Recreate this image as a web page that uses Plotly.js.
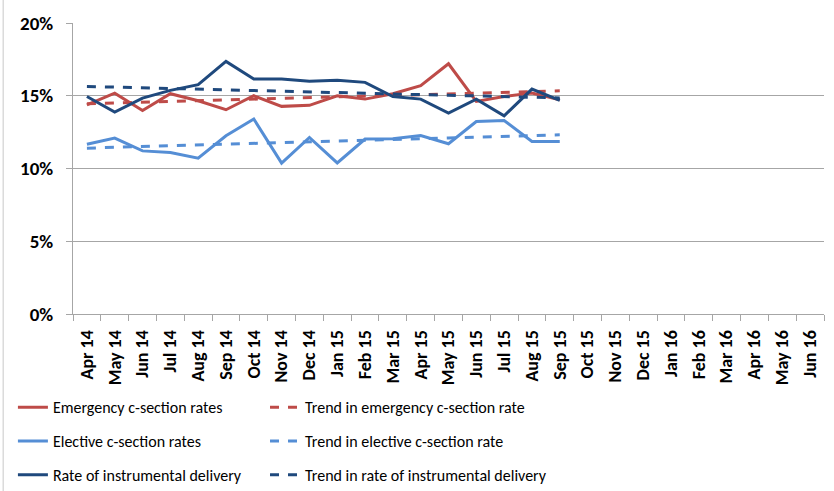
<!DOCTYPE html>
<html>
<head>
<meta charset="utf-8">
<script src="https://cdn.plot.ly/plotly-3.0.1.min.js"></script>
<style>html,body{margin:0;padding:0;background:#fff;}#chart{width:834px;height:491px;}</style>
</head>
<body>
<div id="chart"></div>
<script>
var months = ["Apr 14","May 14","Jun 14","Jul 14","Aug 14","Sep 14","Oct 14","Nov 14","Dec 14","Jan 15","Feb 15","Mar 15","Apr 15","May 15","Jun 15","Jul 15","Aug 15","Sep 15","Oct 15","Nov 15","Dec 15","Jan 16","Feb 16","Mar 16","Apr 16","May 16","Jun 16"];
var dataMonths = months.slice(0, 18);

var emergency = [14.38,15.18,13.99,15.14,14.66,14.04,15.00,14.27,14.34,15.00,14.77,15.14,15.69,17.20,14.61,14.95,15.18,14.72];
var emergencyTrend = [14.45,14.50,14.55,14.61,14.66,14.71,14.76,14.82,14.87,14.92,14.97,15.03,15.08,15.13,15.18,15.24,15.29,15.34];
var elective = [11.67,12.09,11.21,11.10,10.71,12.25,13.40,10.37,12.13,10.38,12.02,12.04,12.27,11.70,13.23,13.30,11.86,11.86];
var electiveTrend = [11.40,11.45,11.51,11.56,11.62,11.67,11.72,11.78,11.83,11.89,11.94,11.99,12.05,12.10,12.16,12.21,12.26,12.32];
var instrumental = [14.95,13.88,14.84,15.37,15.76,17.36,16.15,16.15,15.99,16.06,15.92,14.95,14.77,13.81,14.77,13.62,15.46,14.68];
var instrumentalTrend = [15.64,15.59,15.55,15.50,15.45,15.41,15.36,15.31,15.27,15.22,15.17,15.13,15.08,15.03,14.99,14.94,14.89,14.85];

var yTicks = [0,5,10,15,20];
var yTickText = ["0%","5%","10%","15%","20%"];

var cRed = "#BE4B48", cLight = "#558ED5", cDark = "#1F497D";
function pct(a){ return a.map(function(v){ return v/100; }); }

function tr(name, y, color, dash, legend, group){
  return {x: dataMonths, y: pct(y), name: name, type: "scatter", mode: "lines",
    line: {color: color, width: 3, dash: dash}, legend: legend, legendgroup: group};
}
var traces = [
  tr("Emergency c-section rates", emergency, cRed, "solid", "legend", "a"),
  tr("Trend in emergency c-section rate", emergencyTrend, cRed, "dash", "legend2", "d"),
  tr("Elective c-section rates", elective, cLight, "solid", "legend", "b"),
  tr("Trend in elective c-section rate", electiveTrend, cLight, "dash", "legend2", "e"),
  tr("Rate of instrumental delivery", instrumental, cDark, "solid", "legend", "c"),
  tr("Trend in rate of instrumental delivery", instrumentalTrend, cDark, "dash", "legend2", "f")
];

var font = "Carlito, Lato, sans-serif";
function leg(x){
  return {orientation: "v", x: x, xanchor: "left", y: -0.262, yanchor: "top",
    xref: "paper", yref: "paper", tracegroupgap: 10,
    font: {family: font, size: 16, color: "#000"}, bgcolor: "rgba(0,0,0,0)", traceorder: "grouped"};
}
var layout = {
  width: 834, height: 491,
  margin: {l: 73, r: 10, t: 23, b: 177, autoexpand: false},
  paper_bgcolor: "#fff", plot_bgcolor: "#fff",
  showlegend: true,
  xaxis: {type: "category", categoryorder: "array", categoryarray: months,
    range: [-0.5, 26.5], tickangle: -90, tickson: "boundaries", ticks: "outside", ticklen: 6,
    tickcolor: "#A6A6A6", showline: true, linecolor: "#A6A6A6", linewidth: 1, showgrid: false,
    ticklabelstandoff: 8,
    tickfont: {family: font, size: 18, color: "#000", weight: "bold"}, zeroline: false, fixedrange: true,
    automargin: false},
  yaxis: {range: [0, 0.2], tickvals: pct(yTicks), ticktext: yTickText, ticks: "outside", ticklen: 6,
    tickcolor: "#A6A6A6", showline: true, linecolor: "#A6A6A6", linewidth: 1, showgrid: true,
    gridcolor: "#A6A6A6", gridwidth: 1, zeroline: false, ticklabelstandoff: 9,
    tickfont: {family: font, size: 19, color: "#000", weight: "bold"}, fixedrange: true, automargin: false},
  legend: leg(-0.080),
  legend2: leg(0.2557),
  shapes: [{type: "line", xref: "paper", yref: "paper", x0: -0.093, x1: -0.093, y0: -0.61, y1: 1.08,
    line: {color: "#C8C8C8", width: 1}}]
};
Plotly.newPlot("chart", traces, layout, {staticPlot: true, displayModeBar: false});
</script>
</body>
</html>
